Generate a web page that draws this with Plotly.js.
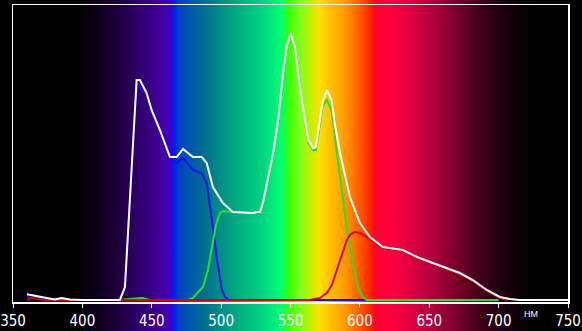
<!DOCTYPE html>
<html>
<head>
<meta charset="utf-8">
<script src="https://cdn.plot.ly/plotly-3.0.1.min.js"></script>
<style>
html,body{margin:0;padding:0;background:#000;}
#chart{width:582px;height:331px;
background:linear-gradient(to right,
#000000 0px,#000000 76px,#100020 100px,#200040 120px,#300070 140px,#3a0085 152px,#4600a8 165px,#3c00c8 170px,#0818f0 174px,#0040c8 178px,#0058a8 190px,#007090 205px,#00a080 230px,#00d080 260px,#00f078 275px,#00ff70 281px,#20ff30 286px,#40ff00 290px,#80ff20 300px,#c0f000 310px,#ffe000 320px,#ffc000 330px,#ffa000 343px,#ff7000 355px,#ff4000 365px,#ff2000 371px,#ff0030 376px,#ff0040 390px,#e00040 410px,#c00040 425px,#a00038 440px,#700028 460px,#400018 480px,#200010 500px,#0a0005 520px,#000000 540px,#000000 582px);}
</style>
</head>
<body>
<div id="chart"></div>
<script>
// Wavelength (nm) and relative intensity for each curve
const whiteNm  = [360,366,377,380,385,391,400,420,427,430.7,433.1,435.5,437.9,439.1,441.5,446.3,449.9,455.9,463.1,468,472.5,479.7,486,489.6,494.1,501.3,508.5,522.9,526.5,528,530.3,533.9,537.5,541.1,544.8,547.2,550.1,553.2,556.8,560.4,562.8,566.2,568.3,571.2,573.4,576.3,579.6,582,585.7,592.8,600,607.2,616.6,631,641.1,652.6,662.7,672.1,681.4,691.5,700.9,708.1,715,729.7,750];
const whiteVal = [5.7,4,1,0.5,2,0.5,0,0,0,13,73,140,197,220,220,207,190,170,143,143,151,143,143,137,113,97,88,87,88,88,98,123,147,180,230,253,267,253,213,180,160,152,153,180,200,210,200,175,147,103,77,63,53,50,43,37,32,27,20,10,3,1,0,0,0];

const blueNm  = [360,368,376,385,390,426,430,433,435.5,437.9,440,446.3,449.9,455.9,463.1,468,472.5,479.7,486,489.6,493.4,497,500.6,502.8,506,600,700];
const blueVal = [3,2,1,1.5,0,0,10,70,137,195,217,204,187,167,140,137,142,130,127,117,80,40,10,3,0,0,0];

const greenNm  = [426,438,443,449,476,479.7,486.9,490.5,493.4,496.3,499.2,501.3,508.5,522.9,526.5,530.3,533.9,537.5,541.1,544.8,547.2,550.1,553.2,556.8,560.4,562.8,566.2,568.3,571.2,573.4,576.3,579.6,583.4,585.5,587.8,590.6,592.8,595.7,597.9,600,602.2,605,700];
const greenVal = [0,1.5,2,0,0,2,13,30,53,75,87,89,88,87,88,98,123,147,180,230,253,266,253,213,178,158,150,150,175,195,200,190,147,125,97,72,53,32,17,8,3,0,0];

const redNm  = [360,364,368,372,560,564,571.2,576.2,579.8,583.4,587,590.6,593.5,596.4,600,605,610.8,616.6,631,641.1,652.6,662.7,672.1,681.4,691.5,700.9,706.7];
const redVal = [0,2,1,0,0,0,2,7,15,30,47,60,66,68,67,63,58,52,49,42,36,31,26,19,9,2,0];

const xTicks = [350,400,450,500,550,600,650,700,750];
const unitLabel = 'НМ';

const traces = [
  {x: blueNm, y: blueVal, mode:'lines', line:{color:'#1010f0', width:2}},
  {x: greenNm, y: greenVal, mode:'lines', line:{color:'#28e028', width:2}},
  {x: redNm, y: redVal, mode:'lines', line:{color:'#e00000', width:2}},
  {x: whiteNm, y: whiteVal, mode:'lines', line:{color:'#ffffff', width:2}}
];

const layout = {
  width:582, height:331,
  margin:{l:13, r:14, t:5, b:29},
  paper_bgcolor:'rgba(0,0,0,0)',
  plot_bgcolor:'rgba(0,0,0,0)',
  showlegend:false,
  xaxis:{range:[350,750], tickvals:xTicks, ticktext:xTicks.map(String),
    ticks:'outside', ticklen:4, tickcolor:'#ffffff', tickwidth:1,
    showline:true, mirror:true, linecolor:'#ffffff', linewidth:1.5,
    showgrid:false, zeroline:false,
    tickfont:{family:'"Liberation Sans Narrow","Arial Narrow","DejaVu Sans Condensed",sans-serif', size:15, color:'#ffffff'}},
  yaxis:{range:[-2,295], showline:true, mirror:true, linecolor:'#ffffff', linewidth:1.5,
    showgrid:false, zeroline:false, showticklabels:false, ticks:''},
  annotations:[{text:unitLabel, xref:'x', yref:'paper', x:723, y:-0.04, showarrow:false,
    xanchor:'center', yanchor:'middle',
    font:{family:'"Liberation Sans","Arial",sans-serif', size:9, color:'#ffffff'}}]
};

Plotly.newPlot('chart', traces, layout, {displayModeBar:false, staticPlot:true});
</script>
</body>
</html>
